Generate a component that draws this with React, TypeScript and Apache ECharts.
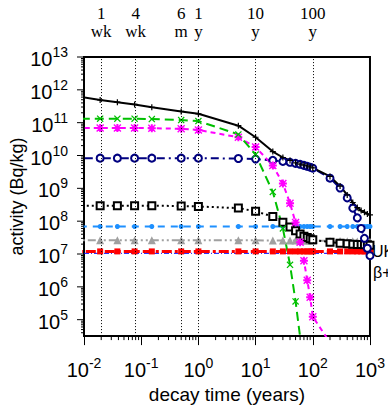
import { useEffect, useRef } from 'react';
import * as echarts from 'echarts';

// decay times (years): start, 1 wk, 2 wk, 4 wk, 8 wk, 6 m, 1 y, ...
const times = [0.005, 0.01916, 0.03833, 0.07666, 0.1533, 0.5, 1, 5, 10, 20, 30, 40, 50, 60, 70, 80, 90, 100, 200, 300, 400, 500, 600, 700, 800, 900, 1000];

const totalActivity = [7.1e11, 4.9e11, 4.2e11, 3.6e11, 2.95e11, 2.2e11, 1.86e11, 8.1e10, 3.6e10, 1.32e10, 8.7e9, 7.1e9, 6.0e9, 5.5e9, 5.1e9, 4.8e9, 4.5e9, 4.2e9, 2.3e9, 1.17e9, 6.3e8, 3.7e8, 2.6e8, 2.1e8, 1.86e8, 1.66e8, 1.55e8];
const greenActivity = [1.32e11, 1.32e11, 1.32e11, 1.32e11, 1.29e11, 1.2e11, 1.12e11, 4.4e10, 1.07e10, 7.8e8, 6.0e7, 4.7e6, 3.6e5, 3.0e4];
const magentaActivity = [6.9e10, 6.9e10, 6.9e10, 6.9e10, 6.8e10, 6.5e10, 6.0e10, 3.6e10, 1.8e10, 5.0e9, 1.4e9, 3.5e8, 9.1e7, 2.3e7, 6.2e6, 1.6e6, 4.8e5, 1.23e5, 2.0e4];
const navyActivity = [8.3e9, 8.3e9, 8.3e9, 8.3e9, 8.3e9, 8.3e9, 8.3e9, 8.1e9, 7.8e9, 7.1e9, 6.6e9, 6.2e9, 5.75e9, 5.4e9, 5.0e9, 4.7e9, 4.4e9, 4.1e9, 2.04e9, 1.02e9, 5.1e8, 2.5e8, 1.26e8, 6.0e7, 3.0e7, 1.5e7, 8.9e6];
const squareActivity = [2.95e8, 2.95e8, 2.95e8, 2.95e8, 2.95e8, 2.9e8, 2.8e8, 2.5e8, 2.0e8, 1.38e8, 9.3e7, 6.6e7, 5.1e7, 4.1e7, 3.5e7, 3.2e7, 2.9e7, 2.7e7, 2.3e7, 2.14e7, 2.04e7, 2.0e7, 1.95e7, 1.95e7, 1.9e7, 1.9e7, 1.86e7];
const lightBlueActivity = [6.9e7, 6.9e7, 6.9e7, 6.9e7, 6.9e7, 6.9e7, 6.9e7, 6.9e7, 6.9e7, 6.9e7, 6.9e7, 6.9e7, 6.9e7, 6.9e7, 6.9e7, 6.9e7, 6.9e7, 6.9e7, 6.9e7, 6.9e7, 6.9e7, 6.9e7, 6.9e7, 6.9e7, 6.9e7, 6.9e7, 6.9e7];
const grayActivity = [2.63e7, 2.63e7, 2.63e7, 2.63e7, 2.63e7, 2.63e7, 2.63e7, 2.63e7, 2.63e7, 2.57e7, 2.57e7, 2.57e7, 2.57e7, 2.57e7, 2.57e7, 2.57e7, 2.57e7, 2.57e7, 2.5e7, 2.5e7, 2.45e7, 2.45e7, 2.4e7, 2.4e7, 2.4e7, 2.35e7, 2.35e7];
const redActivity = [1.2e7, 1.2e7, 1.2e7, 1.2e7, 1.2e7, 1.2e7, 1.2e7, 1.2e7, 1.2e7, 1.2e7, 1.2e7, 1.2e7, 1.2e7, 1.2e7, 1.2e7, 1.2e7, 1.2e7, 1.2e7, 1.2e7, 1.2e7, 1.2e7, 1.2e7, 1.2e7, 1.2e7, 1.2e7, 1.2e7, 1.2e7];
const limitTimes = [0.01, 3000];
const limitActivity = [1.05e7, 1.05e7];

const topMarks = [0.01916, 0.07666, 0.5, 1, 10, 100];
const topMarkLabels = ['1\nwk', '4\nwk', '6\nm', '1\ny', '10\ny', '100\ny'];

const xMin = 0.01;
const xMax = 1000;
const yMin = Math.pow(10, 4.5);
const yMax = 1e13;

const SANS = 'Liberation Sans';
const SERIF = 'Liberation Serif';

const PLUS = 'path://M-0.8,-4L0.8,-4L0.8,-0.8L4,-0.8L4,0.8L0.8,0.8L0.8,4L-0.8,4L-0.8,0.8L-4,0.8L-4,-0.8L-0.8,-0.8Z';
const CROSS = 'path://M-4,-3L-3,-4L0,-1L3,-4L4,-3L1,0L4,3L3,4L0,1L-3,4L-4,3L-1,0Z';
const STAR = 'path://M-1,-4L1,-4L1,-1L4,-1L4,1L1,1L1,4L-1,4L-1,1L-4,1L-4,-1L-1,-1Z M-4,-3L-3,-4L0,-1L3,-4L4,-3L1,0L4,3L3,4L0,1L-3,4L-4,3L-1,0Z';

const supRich = {
  b: { fontSize: 20, fontFamily: SANS, color: '#000', lineHeight: 24, verticalAlign: 'bottom' },
  s: { fontSize: 14, fontFamily: SANS, color: '#000', lineHeight: 10, verticalAlign: 'top' },
};

function App() {
  const ref = useRef<HTMLDivElement>(null);
  useEffect(() => {
    if (!ref.current) return;
    const chart = echarts.init(ref.current, null, { renderer: 'svg' });

    const pair = (vals: number[]) => vals.map((v, i) => [times[i], v]);
    const line = (name: string, vals: number[], color: string, symbol: string, size: number, dash: any, width: number, extra: any = {}) => ({
      type: 'line',
      name,
      data: pair(vals),
      symbol,
      symbolSize: size,
      showAllSymbol: true,
      clip: true,
      lineStyle: { color, width, type: dash },
      itemStyle: { color, borderWidth: 0 },
      ...extra,
    });

    const xMinor: number[][] = [];
    for (let k = -2; k < 3; k++) for (let m = 2; m <= 9; m++) xMinor.push([m * Math.pow(10, k), yMin, 4]);
    const yTicks: number[][] = [];
    for (let k = 4; k < 13; k++) for (let m = 1; m <= 9; m++) {
      const v = m * Math.pow(10, k);
      if (v >= yMin && v <= yMax) yTicks.push([xMin, v, m === 1 ? 7 : 3, m === 1 ? k : -1]);
    }
    yTicks.push([xMin, yMax, 7, 13]);

    const option: any = {
      animation: false,
      grid: { left: 83, right: 18, top: 57, bottom: 64, show: true, borderColor: '#000', borderWidth: 2, backgroundColor: 'transparent' },
      xAxis: {
        type: 'log', logBase: 10, min: xMin, max: xMax, interval: 1,
        name: 'decay time (years)', nameLocation: 'middle', nameGap: 38,
        nameTextStyle: { fontFamily: SANS, fontSize: 19, color: '#000' },
        axisLine: { show: true, lineStyle: { color: '#000', width: 2 } },
        axisTick: { show: true, length: 9, lineStyle: { color: '#000', width: 1 } },
        splitLine: { show: false },
        axisLabel: {
          margin: 20,
          formatter: (v: number) => `{b|10}{s|${Math.round(Math.log10(v))}}`,
          rich: supRich,
        },
      },
      yAxis: {
        type: 'log', logBase: 10, min: yMin, max: yMax,
        name: 'activity (Bq/kg)', nameLocation: 'middle', nameGap: 58,
        nameTextStyle: { fontFamily: SANS, fontSize: 18, color: '#000' },
        axisLine: { show: true, lineStyle: { color: '#000', width: 2 } },
        axisTick: { show: false },
        axisLabel: { show: false },
        splitLine: { show: false },
      },
      graphic: [
        { type: 'text', left: 372, top: 243, style: { text: 'UK', fontFamily: SANS, fontSize: 16, fill: '#000' } },
        { type: 'text', left: 373, top: 264, style: { text: 'β+', fontFamily: SANS, fontSize: 16, fill: '#000' } },
      ],
      series: [
        {
          type: 'line', name: 'limit', data: limitActivity.map((v, i) => [limitTimes[i], v]),
          showSymbol: false, clip: false,
          lineStyle: { color: '#0000ff', width: 1, type: [5, 2, 1, 2] },
          markLine: {
            silent: true, symbol: ['none', 'none'],
            lineStyle: { color: '#000', width: 1, type: [1, 2] },
            label: { show: true, position: 'end', distance: 17, fontFamily: SERIF, fontSize: 17, lineHeight: 18, color: '#000', align: 'center' },
            data: topMarks.map((t, i) => ({ xAxis: t, label: { formatter: topMarkLabels[i] } })),
          },
        },
        line('red', redActivity, '#ff0000', 'rect', 6, [10, 3, 3, 3], 3),
        line('gray', grayActivity, '#a0a0a0', 'triangle', 8, [8, 3, 2, 3, 2, 3], 2),
        line('lightblue', lightBlueActivity, '#1e90ff', 'circle', 5, [7, 6], 2),
        line('squares', squareActivity, '#000000', 'emptyRect', 7, [2, 3], 2, { itemStyle: { color: '#000', borderWidth: 1.3 } }),
        line('navy', navyActivity, '#000080', 'emptyCircle', 7, [8, 4, 2, 4], 2, { itemStyle: { color: '#000080', borderWidth: 1.6 } }),
        line('magenta', magentaActivity, '#ff00ff', STAR, 8, [5, 4], 2),
        line('green', greenActivity, '#00c000', CROSS, 7, [9, 5], 2),
        line('total', totalActivity, '#000000', PLUS, 6, 'solid', 2),
        {
          type: 'custom', name: 'xminor', data: xMinor, silent: true, z: 5,
          renderItem: (_p: any, api: any) => {
            const p = api.coord([api.value(0), api.value(1)]);
            return { type: 'line', shape: { x1: p[0], y1: p[1], x2: p[0], y2: p[1] + api.value(2) }, style: { stroke: '#000', lineWidth: 1 } };
          },
        },
        {
          type: 'custom', name: 'yticks', data: yTicks, silent: true, z: 5,
          renderItem: (_p: any, api: any) => {
            const p = api.coord([api.value(0), api.value(1)]);
            const len = api.value(2);
            const k = api.value(3);
            const children: any[] = [
              { type: 'line', shape: { x1: p[0] - len, y1: p[1], x2: p[0], y2: p[1] }, style: { stroke: '#000', lineWidth: 1 } },
            ];
            if (k >= 0) {
              children.push({
                type: 'text', x: p[0] - 16, y: p[1],
                style: { text: `{b|10}{s|${k}}`, rich: supRich, align: 'right', verticalAlign: 'middle' },
              });
            }
            return { type: 'group', children };
          },
        },
      ],
    };
    chart.setOption(option);
    return () => chart.dispose();
  }, []);
  return <div ref={ref} style={{ width: 388, height: 409, position: 'absolute', left: 0, top: 0 }} />;
}

export default App;
